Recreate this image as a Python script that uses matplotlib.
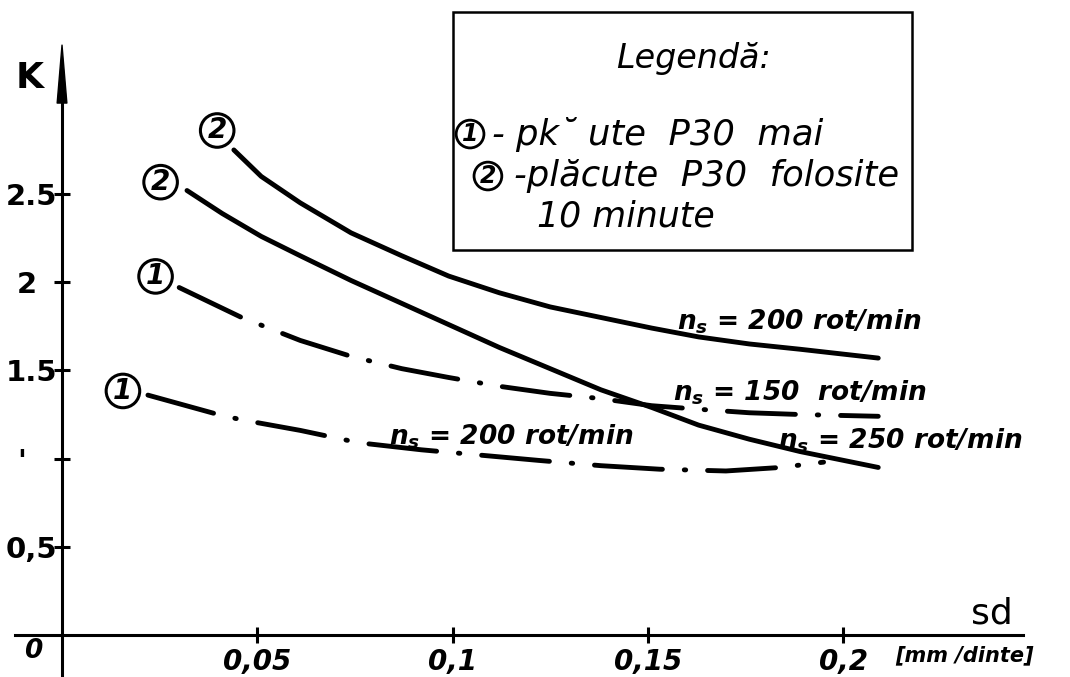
import numpy as np
import matplotlib.pyplot as plt
from matplotlib.patches import Rectangle

plt.rcParams['font.family'] = ['DejaVu Sans']
plt.rcParams['mathtext.fontset'] = 'custom'
plt.rcParams['mathtext.it'] = 'DejaVu Sans:italic:bold'
plt.rcParams['mathtext.rm'] = 'DejaVu Sans:bold'

# valori: sd [mm/dinte] si K
# (2) placute folosite, ns = 200 rot/min
sd_2a = [0.044, 0.051, 0.061, 0.074, 0.087, 0.099, 0.112, 0.125, 0.138, 0.151, 0.163, 0.176, 0.189, 0.209]
k_2a = [2.75, 2.60, 2.45, 2.28, 2.15, 2.035, 1.94, 1.86, 1.80, 1.74, 1.69, 1.65, 1.62, 1.57]
# (2) placute folosite, ns = 250 rot/min
sd_2b = [0.032, 0.041, 0.051, 0.061, 0.074, 0.087, 0.099, 0.112, 0.125, 0.138, 0.151, 0.163, 0.176, 0.189, 0.209]
k_2b = [2.52, 2.39, 2.26, 2.15, 2.01, 1.88, 1.76, 1.63, 1.51, 1.39, 1.29, 1.19, 1.11, 1.04, 0.95]
# (1) placute noi, ns = 150 rot/min
sd_1a = [0.030, 0.046, 0.061, 0.074, 0.087, 0.099, 0.112, 0.125, 0.138, 0.151, 0.163, 0.176, 0.189, 0.209]
k_1a = [1.97, 1.80, 1.67, 1.58, 1.51, 1.46, 1.41, 1.37, 1.34, 1.30, 1.28, 1.26, 1.25, 1.24]
# (1) placute noi, ns = 200 rot/min
sd_1b = [0.022, 0.040, 0.046, 0.061, 0.076, 0.092, 0.107, 0.122, 0.138, 0.153, 0.170, 0.184, 0.195]
k_1b = [1.36, 1.25, 1.22, 1.16, 1.09, 1.05, 1.02, 0.99, 0.96, 0.94, 0.93, 0.95, 0.98]

x_ticks = [0.05, 0.1, 0.15, 0.2]
x_labels = ['0,05', '0,1', '0,15', '0,2']
y_ticks = [0.5, 1, 1.5, 2, 2.5]
y_labels = ['0,5', "'   ", '1.5', '2  ', '2.5']

fig = plt.figure(figsize=(10.7, 6.77), dpi=100)
ax = fig.add_axes([0, 0, 1, 1])
ax.set_xlim(-0.01588, 0.2581)
ax.set_ylim(-0.238, 3.60)

# axe in cruce prin origine
for s in ['top', 'right']:
    ax.spines[s].set_visible(False)
ax.spines['left'].set_position(('data', 0))
ax.spines['bottom'].set_position(('data', 0))
ax.spines['left'].set_bounds(-0.238, 3.05)
ax.spines['bottom'].set_bounds(-0.0120, 0.2461)
ax.spines['left'].set_linewidth(2.2)
ax.spines['bottom'].set_linewidth(2.2)
ax.annotate('', xy=(0, 3.36), xytext=(0, 3.0),
            arrowprops=dict(arrowstyle='wedge,tail_width=0.35,shrink_factor=0.5',
                            fc='black', ec='black', mutation_scale=20))

ax.set_xticks(x_ticks, x_labels)
ax.set_yticks(y_ticks, y_labels)
ax.tick_params(axis='both', direction='inout', length=11, width=2.2)
ax.tick_params(axis='x', pad=4, labelsize=20)
ax.tick_params(axis='y', pad=-2, labelsize=21)
for lbl in ax.get_xticklabels():
    lbl.set_fontstyle('italic')
    lbl.set_fontweight('bold')
for lbl in ax.get_yticklabels():
    lbl.set_fontweight('bold')

ax.text(-0.0074, -0.09, '0', fontsize=19, fontweight='bold', fontstyle='italic',
        ha='center', va='center')
ax.text(-0.0082, 3.16, 'K', fontsize=26, fontweight='bold', ha='center', va='center')
ax.text(0.2382, 0.12, 'sd', fontsize=26, ha='center', va='center')
ax.text(0.2312, -0.115, '[mm /dinte]', fontsize=15, fontweight='bold', fontstyle='italic',
        ha='center', va='center')

# curbele
ax.plot(sd_2a, k_2a, color='black', lw=3.5, solid_capstyle='round')
ax.plot(sd_2b, k_2b, color='black', lw=3.5, solid_capstyle='round')
ax.plot(sd_1a, k_1a, color='black', lw=3.5, dashes=(14, 4.5, 0.3, 4.5), dash_capstyle='round')
ax.plot(sd_1b, k_1b, color='black', lw=3.5, dashes=(14, 4.5, 0.3, 4.5), dash_capstyle='round')

# cercurile cu numarul curbei
circ = dict(ha='center', va='center', fontsize=20, fontweight='bold', fontstyle='italic',
            textcoords='offset points')
box = dict(boxstyle='circle,pad=0.1', fc='white', ec='black', lw=2.2)
ax.annotate('2', xy=(sd_2a[0], k_2a[0]), xytext=(-12, 14), bbox=box, **circ)
ax.annotate('2', xy=(sd_2b[0], k_2b[0]), xytext=(-19, 6), bbox=box, **circ)
ax.annotate('1', xy=(sd_1a[0], k_1a[0]), xytext=(-17, 8), bbox=box, **circ)
ax.annotate('1', xy=(sd_1b[0], k_1b[0]), xytext=(-18, 3), bbox=box, **circ)

lab = dict(fontsize=19, fontweight='bold', fontstyle='italic', ha='center', va='center')
ax.text(0.1887, 1.774, r'$n_s$ = 200 rot/min', **lab)
ax.text(0.1890, 1.372, r'$n_s$ = 150  rot/min', **lab)
ax.text(0.2146, 1.100, r'$n_s$ = 250 rot/min', **lab)
ax.text(0.1150, 1.122, r'$n_s$ = 200 rot/min', **lab)

# legenda
fig.add_artist(Rectangle((0.4234, 0.6307), 0.429, 0.3516, transform=fig.transFigure,
                         fill=False, lw=1.8, ec='black'))
fig.text(0.6477, 0.913, 'Legendă:', fontsize=24, fontstyle='italic', ha='center', va='center')
fig.text(0.4393, 0.802, '1', fontsize=17, fontweight='bold', fontstyle='italic', ha='center',
         va='center', bbox=dict(boxstyle='circle,pad=0.08', fc='white', ec='black', lw=2))
fig.text(0.460, 0.802, '- pk˘ ute  P30  mai', fontsize=25.5, fontstyle='italic', ha='left', va='center')
fig.text(0.456, 0.740, '2', fontsize=17, fontweight='bold', fontstyle='italic', ha='center',
         va='center', bbox=dict(boxstyle='circle,pad=0.08', fc='white', ec='black', lw=2))
fig.text(0.480, 0.740, '-plăcute  P30  folosite', fontsize=25.5, fontstyle='italic', ha='left', va='center')
fig.text(0.502, 0.680, '10 minute', fontsize=25, fontstyle='italic', ha='left', va='center')

fig.savefig('out.png', dpi=100)
